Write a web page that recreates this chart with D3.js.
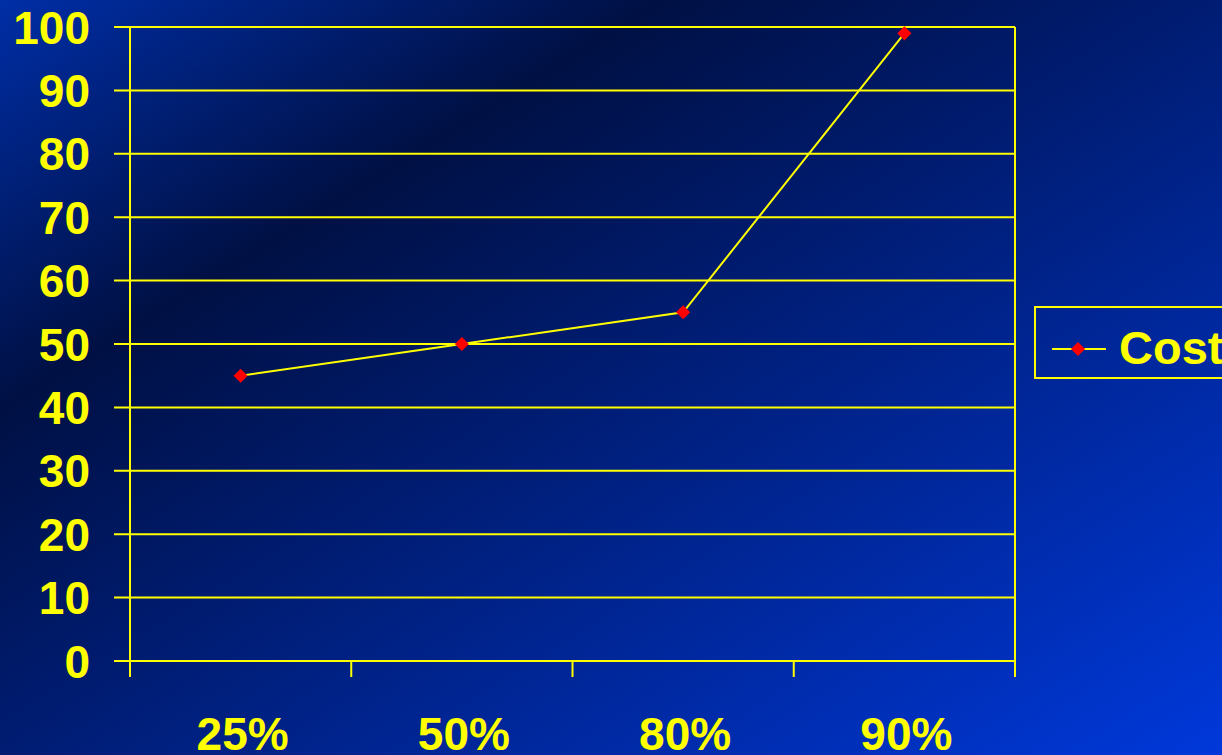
<!DOCTYPE html>
<html>
<head>
<meta charset="utf-8">
<script src="https://cdn.jsdelivr.net/npm/d3@7"></script>
<style>
  body { margin: 0; overflow: hidden; }
  text { font-family: "Liberation Sans", Arial, sans-serif; font-weight: bold; fill: #ffff00; }
</style>
</head>
<body>
<div id="chart"></div>
<script>
var categories = ["25%", "50%", "80%", "90%"];
var costValues = [45, 50, 55, 99];
var yTicks = [0, 10, 20, 30, 40, 50, 60, 70, 80, 90, 100];
var seriesName = "Cost";

var W = 1222, H = 755;
var plot = {left: 130, right: 1015, top: 27, bottom: 661};

var svg = d3.select("#chart")
    .append("svg")
        .attr("width", W)
        .attr("height", H);

// background gradient
var grad = svg.append("defs").append("linearGradient")
    .attr("id", "bg")
    .attr("x1", 0).attr("y1", 0)
    .attr("x2", 1).attr("y2", 1);
grad.append("stop").attr("offset", 0).attr("stop-color", "#002ea6");
grad.append("stop").attr("offset", 0.27).attr("stop-color", "#001044");
grad.append("stop").attr("offset", 1).attr("stop-color", "#0038da");

svg.append("rect")
    .attr("width", W)
    .attr("height", H)
    .attr("fill", "url(#bg)");

var x = d3.scaleBand()
    .domain(categories)
    .range([plot.left, plot.right])
    .padding(0);

var y = d3.scaleLinear()
    .domain([0, 100])
    .range([plot.bottom, plot.top]);

// horizontal gridlines (extend left of axis as tick marks)
svg.selectAll(".grid")
    .data(yTicks)
    .enter().append("line")
        .attr("class", "grid")
        .attr("x1", plot.left - 16)
        .attr("x2", plot.right)
        .attr("y1", function(d) {return y(d);})
        .attr("y2", function(d) {return y(d);})
        .style("stroke", "#ffff00")
        .style("stroke-width", 2);

// y axis line and right border
[plot.left, plot.right].forEach(function(px) {
    svg.append("line")
        .attr("x1", px).attr("x2", px)
        .attr("y1", plot.top).attr("y2", plot.bottom + 16)
        .style("stroke", "#ffff00")
        .style("stroke-width", 2);
});

// x tick marks at band boundaries
var boundaries = categories.map(function(c) {return x(c);}).concat([plot.right]);
svg.selectAll(".xtick")
    .data(boundaries)
    .enter().append("line")
        .attr("class", "xtick")
        .attr("x1", function(d) {return d;})
        .attr("x2", function(d) {return d;})
        .attr("y1", plot.bottom)
        .attr("y2", plot.bottom + 16)
        .style("stroke", "#ffff00")
        .style("stroke-width", 2);

// y labels
svg.selectAll(".ylabel")
    .data(yTicks)
    .enter().append("text")
        .attr("class", "ylabel")
        .attr("x", 90)
        .attr("y", function(d) {return y(d);})
        .attr("dy", "0.36em")
        .attr("text-anchor", "end")
        .style("font-size", "46px")
        .text(function(d) {return d;});

// x labels
svg.selectAll(".xlabel")
    .data(categories)
    .enter().append("text")
        .attr("class", "xlabel")
        .attr("x", function(d) {return x(d) + x.bandwidth() / 2 + 2;})
        .attr("y", 750)
        .attr("text-anchor", "middle")
        .style("font-size", "46px")
        .text(function(d) {return d;});

// series line
var points = categories.map(function(c, i) {return {cat: c, value: costValues[i]};});
var line = d3.line()
    .x(function(d) {return x(d.cat) + x.bandwidth() / 2;})
    .y(function(d) {return y(d.value);});

svg.append("path")
    .datum(points)
    .attr("d", line)
    .style("fill", "none")
    .style("stroke", "#ffff00")
    .style("stroke-width", 2);

var diamond = d3.symbol().type(d3.symbolSquare).size(100);

svg.selectAll(".marker")
    .data(points)
    .enter().append("path")
        .attr("class", "marker")
        .attr("d", diamond)
        .attr("transform", function(d) {
            return "translate(" + (x(d.cat) + x.bandwidth() / 2) + "," + y(d.value) + ") rotate(45)";
        })
        .style("fill", "#ff0000");

// legend
var legend = svg.append("g").attr("transform", "translate(1035,307)");
legend.append("rect")
    .attr("width", 260)
    .attr("height", 71)
    .style("fill", "none")
    .style("stroke", "#ffff00")
    .style("stroke-width", 2);
legend.append("line")
    .attr("x1", 17).attr("x2", 71)
    .attr("y1", 42).attr("y2", 42)
    .style("stroke", "#ffff00")
    .style("stroke-width", 2);
legend.append("path")
    .attr("d", diamond)
    .attr("transform", "translate(43,42) rotate(45)")
    .style("fill", "#ff0000");
legend.append("text")
    .attr("x", 84)
    .attr("y", 57)
    .style("font-size", "47px")
    .text(seriesName);
</script>
</body>
</html>
